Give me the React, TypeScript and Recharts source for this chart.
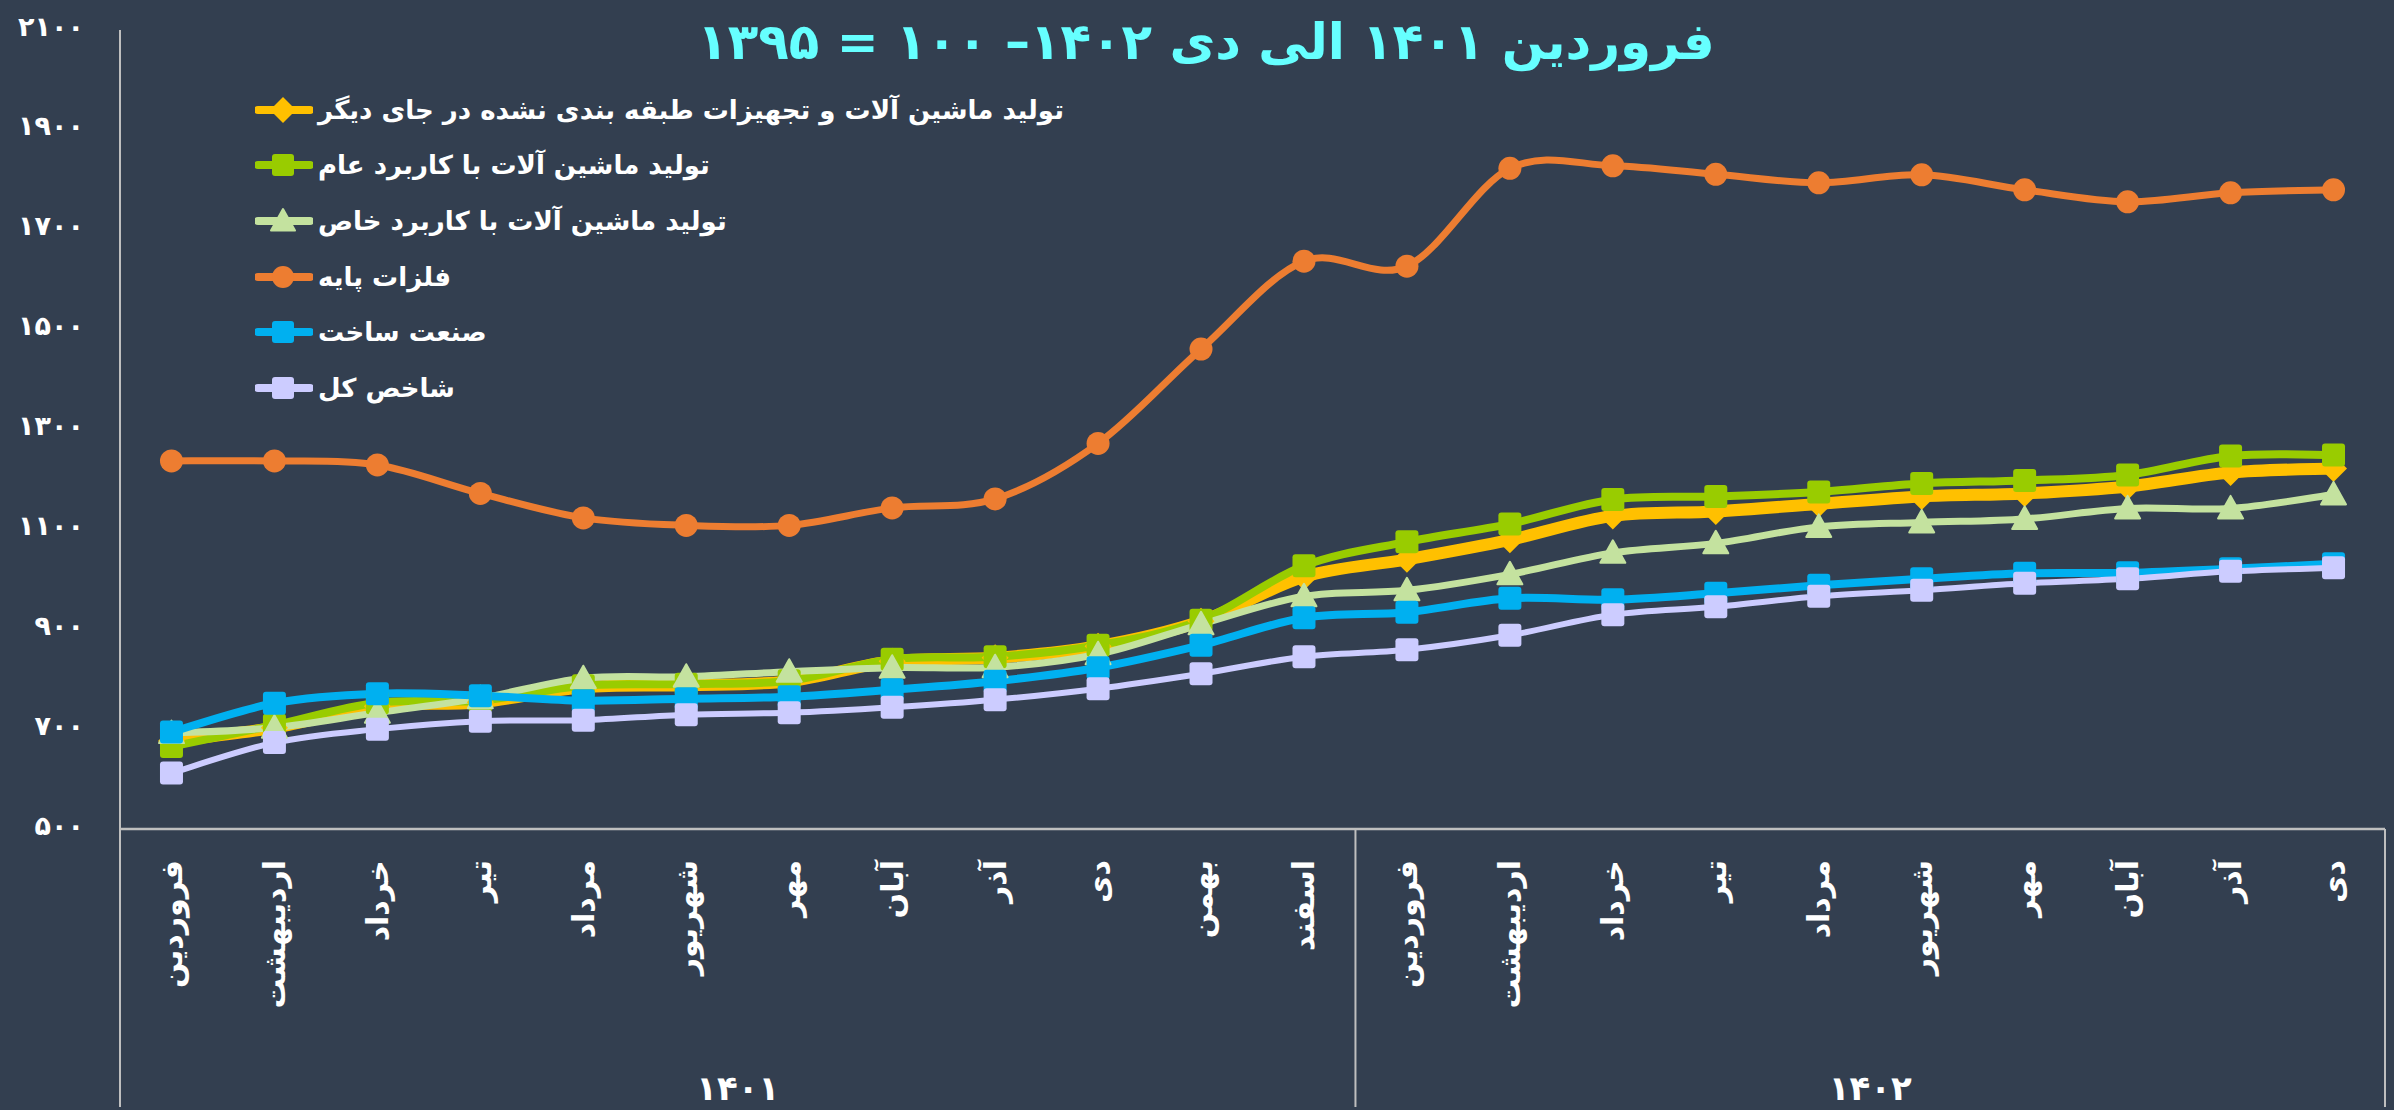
import React from "react"
import { LineChart, Line, XAxis, YAxis, Legend } from "recharts"

// categories: months of 1401 (12) and 1402 (10)
const months = [
  "فروردین", "اردیبهشت", "خرداد", "تیر", "مرداد", "شهریور",
  "مهر", "آبان", "آذر", "دی", "بهمن", "اسفند",
  "فروردین", "اردیبهشت", "خرداد", "تیر", "مرداد", "شهریور",
  "مهر", "آبان", "آذر", "دی"
]
const years = ["۱۴۰۱", "۱۴۰۲"]
const yTicks = [500, 700, 900, 1100, 1300, 1500, 1700, 1900, 2100]

const machineryOther = [676, 703, 746, 754, 784, 788, 796, 836, 843, 866, 916, 1005, 1040, 1079, 1127, 1136, 1151, 1166, 1172, 1186, 1214, 1222]
const machineryGeneral = [665, 708, 753, 757, 787, 790, 797, 840, 845, 868, 918, 1027, 1075, 1111, 1160, 1166, 1175, 1192, 1198, 1209, 1247, 1249]
const machinerySpecial = [692, 703, 733, 762, 802, 805, 815, 823, 824, 850, 910, 966, 978, 1010, 1053, 1072, 1105, 1114, 1121, 1142, 1142, 1170]
const basicMetals = [1237, 1237, 1229, 1172, 1123, 1108, 1108, 1143, 1161, 1272, 1461, 1637, 1627, 1823, 1828, 1811, 1794, 1810, 1780, 1756, 1774, 1780]
const manufacturing = [694, 752, 771, 767, 757, 761, 765, 779, 796, 823, 868, 923, 934, 962, 959, 972, 988, 1001, 1012, 1013, 1021, 1031]
const totalIndex = [612, 673, 700, 716, 718, 729, 733, 744, 759, 781, 811, 845, 859, 888, 929, 945, 966, 978, 992, 1001, 1016, 1023]

const series = [
  { key: "other", name: "تولید ماشین آلات و تجهیزات طبقه بندی نشده در جای دیگر", values: machineryOther, color: "#FFC000", width: 12, shape: "diamond" },
  { key: "general", name: "تولید ماشین آلات با کاربرد عام", values: machineryGeneral, color: "#99CC00", width: 8, shape: "square" },
  { key: "special", name: "تولید ماشین آلات با کاربرد خاص", values: machinerySpecial, color: "#C4E29F", width: 7, shape: "triangle" },
  { key: "metals", name: "فلزات پایه", values: basicMetals, color: "#ED7D31", width: 7, shape: "circle" },
  { key: "manuf", name: "صنعت ساخت", values: manufacturing, color: "#00B0F0", width: 8, shape: "square" },
  { key: "total", name: "شاخص کل", values: totalIndex, color: "#CCCCFF", width: 6, shape: "square" }
]

const data = months.map((month, i) => {
  const row: Record<string, any> = { month }
  series.forEach((s) => { row[s.key] = s.values[i] })
  return row
})

const W = 2394
const H = 1110
const BG = "#333F50"
const AXIS = "#BFBFBF"
const FONT = '"DejaVu Sans", sans-serif'
const PLOT_LEFT = 120
const PLOT_RIGHT = 2385
const AXIS_Y = 829
const STEP = (PLOT_RIGHT - PLOT_LEFT) / months.length

const fa = (n: number | string) => String(n).replace(/\d/g, (d) => "۰۱۲۳۴۵۶۷۸۹"[+d])

// excel-like smoothing (catmull-rom)
const smooth = (context: any) => {
  let pts: number[][] = []
  return {
    areaStart() {},
    areaEnd() {},
    lineStart() { pts = [] },
    point(x: number, y: number) { pts.push([+x, +y]) },
    lineEnd() {
      if (!pts.length) return
      context.moveTo(pts[0][0], pts[0][1])
      for (let i = 0; i < pts.length - 1; i++) {
        const p0 = pts[i - 1] || pts[i]
        const p1 = pts[i]
        const p2 = pts[i + 1]
        const p3 = pts[i + 2] || p2
        context.bezierCurveTo(
          p1[0] + (p2[0] - p0[0]) / 6, p1[1] + (p2[1] - p0[1]) / 6,
          p2[0] - (p3[0] - p1[0]) / 6, p2[1] - (p3[1] - p1[1]) / 6,
          p2[0], p2[1]
        )
      }
    }
  }
}

function Marker({ cx, cy, shape, color, size = 11.5 }: any) {
  if (shape === "circle") return <circle cx={cx} cy={cy} r={size} fill={color} />
  if (shape === "diamond") {
    const s = size + 2
    return <polygon points={`${cx},${cy - s} ${cx + s},${cy} ${cx},${cy + s} ${cx - s},${cy}`} fill={color} />
  }
  if (shape === "triangle") {
    const s = size + 1
    return <polygon points={`${cx},${cy - s} ${cx + s},${cy + s * 0.8} ${cx - s},${cy + s * 0.8}`} fill={color} stroke={color} strokeWidth={2} strokeLinejoin="round" />
  }
  return <rect x={cx - size} y={cy - size} width={size * 2} height={size * 2} rx={3} fill={color} />
}

function MonthTick({ x, index }: any) {
  const label = months[index]
  const parts: React.ReactNode[] = []
  parts.push(
    <text key="l" x={x} y={860} transform={`rotate(-90 ${x} 860)`} textAnchor="end" dominantBaseline="central"
      fill="#fff" fontFamily={FONT} fontWeight="bold" fontSize={30}>{label}</text>
  )
  if (index === 0) {
    parts.push(<line key="b0" x1={x - STEP / 2} x2={x - STEP / 2} y1={AXIS_Y} y2={H - 3} stroke={AXIS} strokeWidth={2} />)
  }
  if (index === 11 || index === months.length - 1) {
    parts.push(<line key="b1" x1={x + STEP / 2} x2={x + STEP / 2} y1={AXIS_Y} y2={H - 3} stroke={AXIS} strokeWidth={2} />)
  }
  if (index === 5 || index === 16) {
    parts.push(
      <text key="y" x={x + STEP / 2} y={1088} textAnchor="middle" dominantBaseline="central"
        fill="#fff" fontFamily={FONT} fontWeight="bold" fontSize={34}>{years[index === 5 ? 0 : 1]}</text>
    )
  }
  return <g>{parts}</g>
}

function ValueTick({ y, payload }: any) {
  return (
    <text x={84} y={y - 4} textAnchor="end" dominantBaseline="central" fill="#fff"
      fontFamily={FONT} fontWeight="bold" fontSize={27}>{fa(payload.value)}</text>
  )
}

function LegendBox() {
  return (
    <div dir="ltr" style={{ fontFamily: FONT }}>
      {series.map((s) => (
        <div key={s.key} style={{ display: "flex", alignItems: "center", height: 55.6 }}>
          <svg width={58} height={30} style={{ flex: "none" }}>
            <line x1={3} x2={55} y1={15} y2={15} stroke={s.color} strokeWidth={8} strokeLinecap="round" />
            <Marker cx={28} cy={15} shape={s.shape} color={s.color} size={11} />
          </svg>
          <span dir="rtl" style={{ color: "#fff", fontWeight: "bold", fontSize: 26, marginLeft: 5, whiteSpace: "nowrap" }}>{s.name}</span>
        </div>
      ))}
    </div>
  )
}

export default function App() {
  return (
    <div style={{ position: "fixed", left: 0, top: 0, width: W, height: H, background: BG, overflow: "hidden" }}>
      <div dir="rtl" style={{
        position: "absolute", left: 1206, top: 6, transform: "translateX(-50%)", whiteSpace: "nowrap",
        color: "#66FFFF", fontFamily: FONT, fontWeight: "bold", fontSize: 50, lineHeight: "72px"
      }}>
        فروردین ۱۴۰۱ الی دی ۱۴۰۲– ۱۰۰ = ۱۳۹۵
      </div>
      <LineChart width={W} height={H} data={data} margin={{ top: 30, right: W - PLOT_RIGHT, bottom: 0, left: 0 }}>
        <XAxis dataKey="month" interval={0} height={H - AXIS_Y} tickLine={false}
          padding={{ left: STEP / 2, right: STEP / 2 }}
          axisLine={{ stroke: AXIS, strokeWidth: 2.5 }} tick={<MonthTick />} />
        <YAxis width={PLOT_LEFT} domain={[500, 2100]} ticks={yTicks} tickLine={false}
          axisLine={{ stroke: AXIS, strokeWidth: 2 }} tick={<ValueTick />} />
        <Legend layout="vertical" align="center" verticalAlign="middle" content={() => <LegendBox />}
          wrapperStyle={{ left: 255, top: 82, width: 900, height: 340 }} />
        {series.map((s) => (
          <Line key={s.key} dataKey={s.key} name={s.name} type={smooth as any} stroke={s.color}
            strokeWidth={s.width} strokeLinejoin="round" activeDot={false} isAnimationActive={false}
            dot={(p: any) => <Marker key={`${s.key}-${p.index}`} cx={p.cx} cy={p.cy} shape={s.shape} color={s.color} />} />
        ))}
      </LineChart>
    </div>
  )
}
